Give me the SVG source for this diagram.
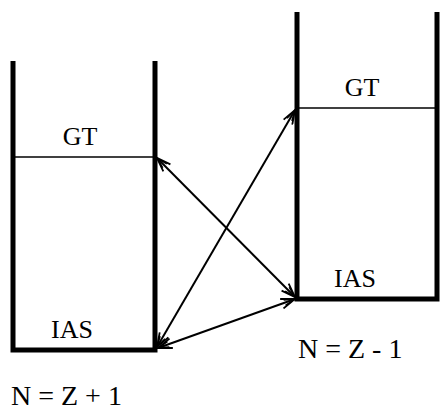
<svg xmlns="http://www.w3.org/2000/svg" width="440" height="411" viewBox="0 0 440 411">
<style>
.wall{stroke:#000;stroke-width:5;fill:none;stroke-linecap:butt}
.thin{stroke:#000;stroke-width:1.6;fill:none}
.conn{stroke:#000;stroke-width:2;fill:none}
.t{font-family:'Liberation Serif','DejaVu Serif','Times New Roman',serif;fill:#000}
.lbl{font-size:26px}
.eq{font-size:28px}
</style>
<defs>
<marker id="ah" viewBox="0 0 16 12" refX="15" refY="6" markerWidth="16" markerHeight="12" markerUnits="userSpaceOnUse" orient="auto-start-reverse">
<path d="M1,1 L15,6 L1,11 M4,3 L15,6 L4,9" fill="none" stroke="#000" stroke-width="1.8"/>
</marker>
</defs>
<rect width="440" height="411" fill="#fff"/>
<g id="left-box">
<path class="wall" d="M13,61 V352 M155,61 V352 M10.5,350 H157.5"/>
<path class="thin" d="M13,157 H155"/>
<text class="t lbl" font-family="Liberation Serif, serif" x="80" y="145" text-anchor="middle">GT</text>
<text class="t lbl" font-family="Liberation Serif, serif" x="72" y="338" text-anchor="middle">IAS</text>
</g>
<g id="right-box">
<path class="wall" d="M297,12 V301 M437,12 V301 M294.5,299 H439.5"/>
<path class="thin" d="M297,108 H437"/>
<text class="t lbl" font-family="Liberation Serif, serif" x="362" y="96" text-anchor="middle">GT</text>
<text class="t lbl" font-family="Liberation Serif, serif" x="355" y="287" text-anchor="middle">IAS</text>
</g>
<g id="labels">
<text class="t eq" font-family="Liberation Serif, serif" x="298" y="358">N = Z - 1</text>
<text class="t eq" font-family="Liberation Serif, serif" x="11" y="405">N = Z + 1</text>
</g>
<g id="connectors">
<line class="conn" x1="157" y1="158" x2="295" y2="297" marker-start="url(#ah)" marker-end="url(#ah)"/>
<line class="conn" x1="157" y1="347" x2="295" y2="110" marker-start="url(#ah)" marker-end="url(#ah)"/>
<line class="conn" x1="158" y1="348" x2="295" y2="299" marker-start="url(#ah)" marker-end="url(#ah)"/>
</g>
</svg>
